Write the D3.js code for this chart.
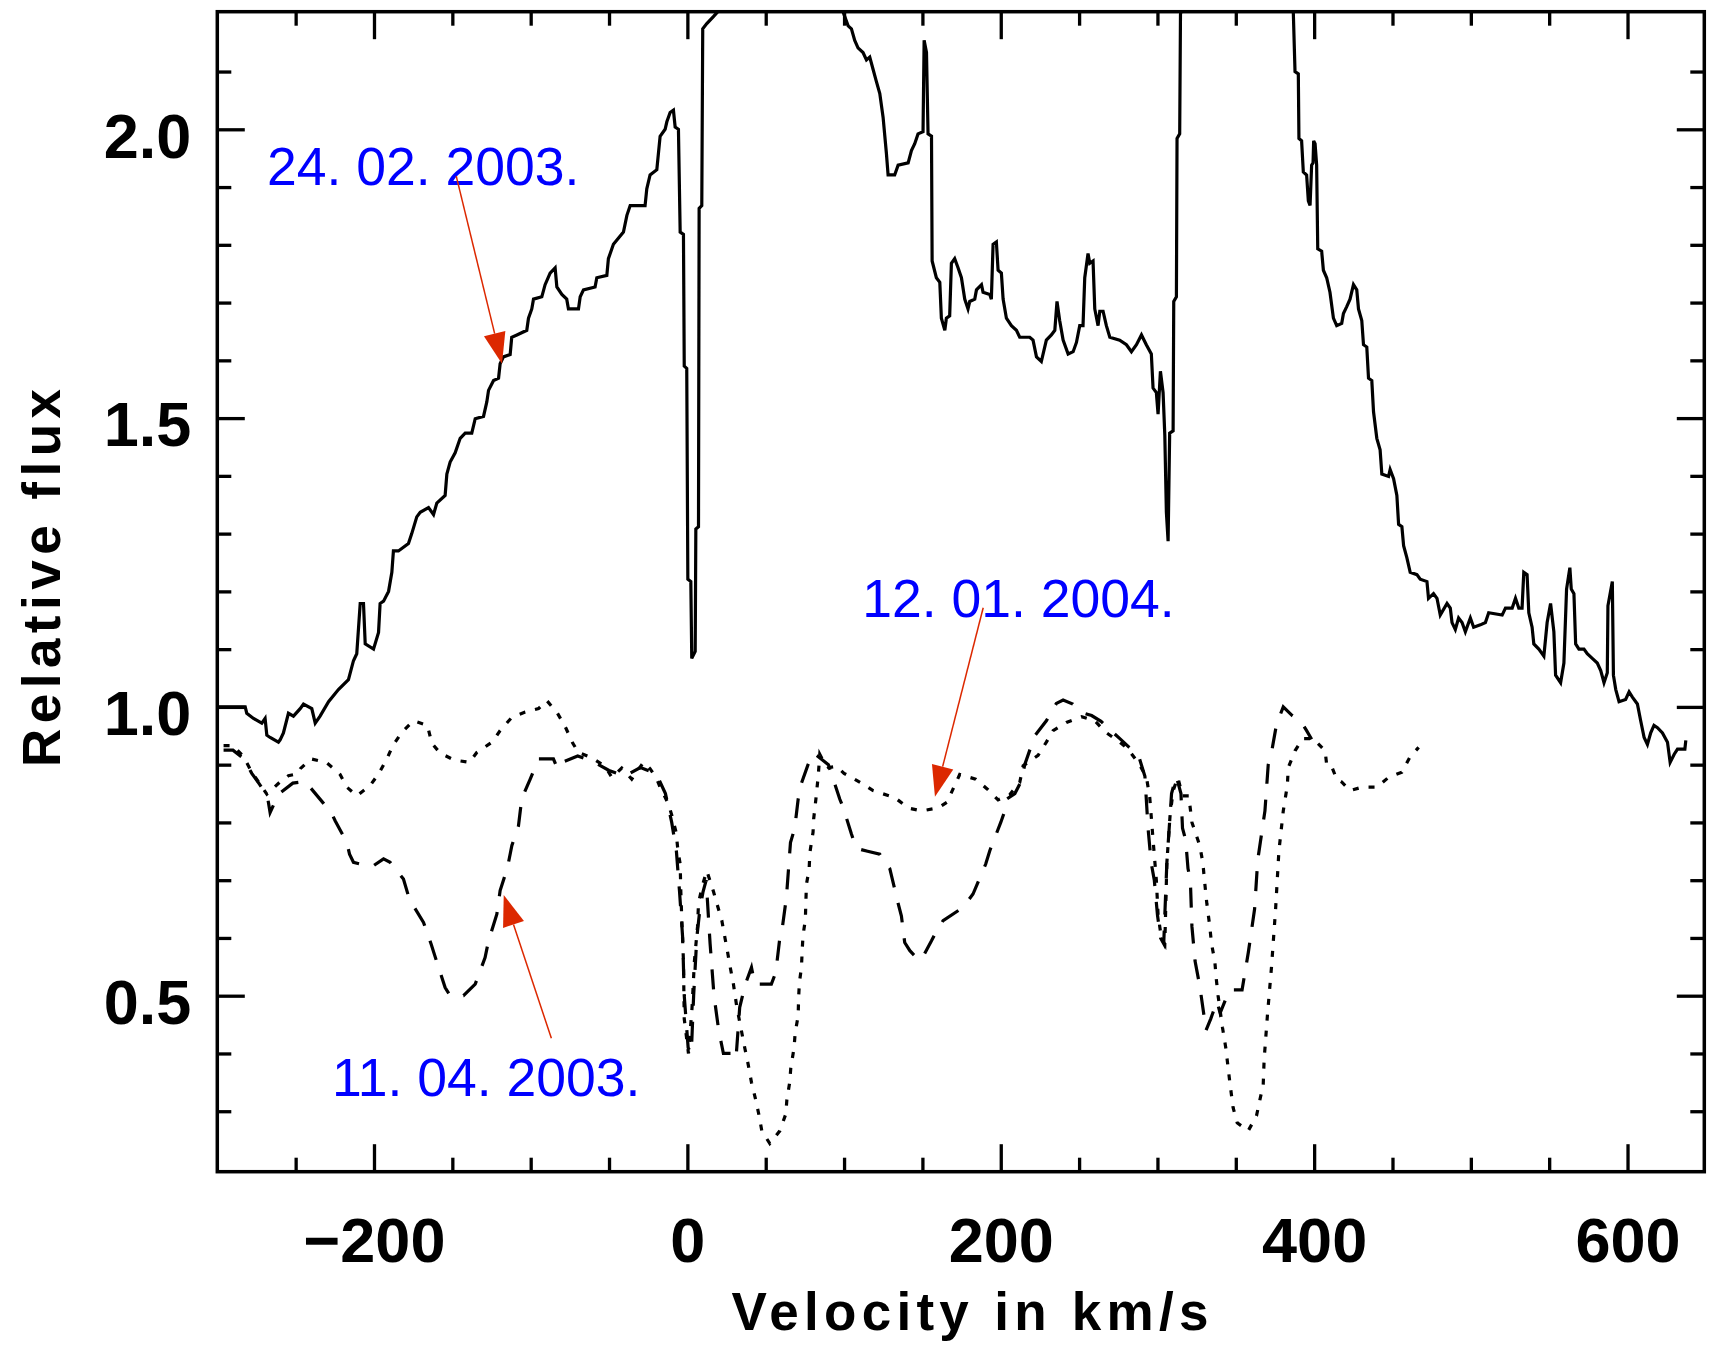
<!DOCTYPE html>
<html>
<head>
<meta charset="utf-8">
<script src="https://cdn.jsdelivr.net/npm/d3@7"></script>
<style>
  html, body { margin: 0; padding: 0; background: #ffffff; }
  svg { display: block; }
</style>
</head>
<body>
<svg id="chart" width="1717" height="1354"></svg>
<script>
// ---- Spectrum of 24.02.2003 (solid) ----
const vel24Feb2003 = [
  -299.2,-282.2,-281.2,-276.9,-271.6,-269.5,-268.4,-266.3,-261.0,-259.9,-257.8,-254.6,-251.4,-247.1,-245.0,-239.7,
  -237.5,-234.4,-229.0,-222.7,-216.3,-213.1,-211.0,-208.8,-206.7,-205.6,-200.3,-197.1,-196.1,-193.9,-190.7,-188.6,
  -187.6,-184.4,-178.0,-175.9,-172.7,-170.5,-165.2,-162.0,-159.9,-154.6,-153.5,-151.4,-148.2,-145.0,-141.8,-137.6,
  -135.4,-130.1,-128.0,-126.9,-123.7,-120.5,-119.5,-117.4,-113.1,-112.1,-108.8,-102.5,-101.4,-99.3,-98.2,-92.9,
  -90.8,-87.6,-84.4,-83.3,-80.1,-77.0,-75.9,-69.5,-68.4,-66.3,-58.9,-57.8,-51.4,-50.4,-47.2,-40.8,
  -38.6,-36.5,-27.0,-25.9,-23.8,-19.5,-17.4,-14.2,-13.1,-11.0,-8.9,-7.8,-5.7,-4.6,-2.5,-2.0,
  -0.4,0.3,2.2,2.8,5.0,5.4,7.1,7.5,9.2,9.8,12.4,16.6,20.9,30,90,99.4,
  102.6,104.7,106.8,108.9,112.1,114.3,116.4,118.5,120.6,122.8,124.9,127.0,128.1,132.3,134.5,140.9,
  143.0,145.1,147.2,150.4,151.1,152.6,153.6,155.8,156.2,158.9,161.1,162.1,164.3,165.3,167.4,168.5,
  170.6,172.8,174.9,177.0,179.1,180.2,183.4,184.5,187.7,188.7,193.0,194.0,195.1,197.2,198.3,200.4,
  201.5,203.6,206.8,210.0,212.1,218.5,220.6,222.8,225.9,229.1,232.3,234.5,235.9,237.6,239.8,243.0,
  246.2,248.3,250.4,252.5,253.6,255.7,256.8,258.9,260.0,262.1,263.2,265.3,267.4,269.6,275.9,280.2,
  283.4,286.6,289.8,292.9,296.1,297.2,299.3,300.4,301.9,303.6,304.7,305.7,306.8,307.8,310.0,310.4,
  312.1,312.5,314.2,314.7,325,380,386.7,387.8,389.9,390.3,392.0,393.1,395.2,396.3,397.4,398.4,
  399.3,399.7,400.6,401.6,402.3,404.8,405.9,408.0,410.1,412.3,414.4,417.6,418.7,420.8,422.9,425.1,
  427.2,428.3,430.4,431.5,433.6,434.7,436.8,437.9,440.0,442.1,443.2,447.5,448.5,450.7,452.8,453.9,
  456.0,457.1,459.2,461.3,465.6,467.7,472.0,473.0,476.2,478.4,480.5,484.8,486.9,488.0,490.1,492.2,
  494.4,496.5,499.7,501.8,506.1,509.3,511.4,520.0,522.1,526.4,528.5,530.6,532.7,533.8,535.9,537.0,
  539.1,540.2,543.4,546.6,548.7,550.9,553.0,554.1,557.3,559.4,561.1,563.2,564.1,565.8,566.9,569.0,
  572.2,574.3,577.5,580.7,582.9,585.0,587.1,587.5,590.3,591.0,592.5,594.6,598.8,601.0,603.1,606.3,
  608.4,610.6,612.7,614.8,616.9,619.1,622.3,625.5,627.2,629.8,631.9,636.6,637.2
];
const flux24Feb2003 = [
  1.000,1.000,0.989,0.980,0.972,0.980,0.951,0.947,0.939,0.943,0.955,0.989,0.984,0.997,1.005,0.997,
  0.972,0.984,1.009,1.030,1.047,1.080,1.092,1.179,1.179,1.109,1.100,1.129,1.179,1.183,1.200,1.233,
  1.270,1.270,1.283,1.300,1.329,1.337,1.345,1.333,1.353,1.366,1.403,1.424,1.440,1.465,1.474,1.474,
  1.499,1.503,1.528,1.548,1.565,1.569,1.594,1.606,1.610,1.640,1.644,1.652,1.673,1.689,1.706,1.710,
  1.731,1.751,1.760,1.727,1.714,1.706,1.689,1.689,1.710,1.722,1.727,1.743,1.747,1.776,1.801,1.822,
  1.851,1.868,1.868,1.897,1.921,1.930,1.988,2.000,2.013,2.029,2.033,2.004,2.000,1.822,1.818,1.590,
  1.586,1.221,1.217,1.084,1.096,1.308,1.312,1.863,1.868,2.174,2.183,2.195,2.208,2.350,2.350,2.203,
  2.179,2.174,2.154,2.141,2.133,2.120,2.125,2.104,2.083,2.062,2.021,1.959,1.921,1.921,1.938,1.942,
  1.963,1.975,1.992,1.996,2.154,2.133,1.992,1.988,1.772,1.743,1.735,1.673,1.652,1.673,1.677,1.768,
  1.776,1.760,1.743,1.706,1.689,1.702,1.706,1.722,1.731,1.718,1.714,1.706,1.801,1.805,1.756,1.751,
  1.706,1.673,1.660,1.652,1.640,1.640,1.635,1.606,1.598,1.635,1.644,1.652,1.702,1.669,1.635,1.611,
  1.615,1.631,1.660,1.660,1.743,1.785,1.768,1.772,1.689,1.660,1.685,1.685,1.660,1.640,1.635,1.627,
  1.615,1.627,1.644,1.627,1.611,1.552,1.544,1.507,1.581,1.544,1.470,1.337,1.287,1.474,1.478,1.702,
  1.710,1.984,1.992,2.199,2.350,2.350,2.203,2.100,2.096,1.984,1.980,1.926,1.921,1.876,1.868,1.938,
  1.942,1.980,1.975,1.938,1.793,1.789,1.756,1.743,1.718,1.673,1.660,1.664,1.681,1.693,1.706,1.731,
  1.722,1.689,1.669,1.627,1.623,1.569,1.565,1.511,1.465,1.445,1.403,1.399,1.411,1.395,1.366,1.316,
  1.312,1.279,1.258,1.233,1.229,1.221,1.217,1.188,1.196,1.188,1.159,1.179,1.171,1.146,1.134,1.154,
  1.146,1.130,1.154,1.138,1.142,1.146,1.163,1.159,1.171,1.171,1.188,1.171,1.171,1.233,1.229,1.163,
  1.138,1.109,1.100,1.088,1.146,1.179,1.130,1.055,1.042,1.076,1.204,1.241,1.204,1.196,1.109,1.100,
  1.100,1.092,1.084,1.076,1.063,1.042,1.059,1.175,1.217,1.055,1.030,1.009,1.013,1.026,1.017,1.005,
  0.976,0.947,0.935,0.955,0.968,0.964,0.955,0.939,0.904,0.918,0.927,0.927,0.942
];

// ---- Spectrum of 11.04.2003 (dashed) ----
const vel11Apr2003 = [
  -296,-290,-283,-278,-273,-268,-266.3,-260.9,-251.8,-243.9,-232.2,-226.9,-224.8,-217.3,-215.6,-213.1,
  -201.4,-193.9,-189.7,-181.2,-177.4,-168.4,-163.5,-158.8,-154.6,-151.4,-142.9,-135.4,-129.1,-126.9,-121.6,-119.5,
  -114.8,-112.0,-107.8,-105.7,-100.3,-95.0,-85.5,-82.9,-80.1,-70,-60,-50,-40,-30,-20,-14,
  -10,-7,-5,-3,-2,0.5,2.5,4,6,8,10,12,14.5,17,20,23,
  28,31,33.4,37,40.9,43,46.2,53.6,56.4,59,60.7,63.2,65.8,68.5,70.7,72.8,
  77,80.5,83,90,97.3,99.4,104.7,107.9,115,122.8,126,129.2,134.5,136.6,138.7,142,
  147.2,149.4,155.8,159,163.2,176,182.3,190.4,193,200,202.6,203.6,209,213.2,215.3,221.7,
  229.1,235.5,239.8,246,252,258,264,270,276,282,288,292,294,296,298,300,
  302,304,306,309,312,315,316,318,319.5,321,322,324,327,330,331,334,
  338,340,346,354,358,362,364,368.6,370.7,372.8,376,380.3,386,392,395.2,398.4
];
const flux11Apr2003 = [
  0.925,0.925,0.910,0.885,0.866,0.845,0.817,0.849,0.868,0.871,0.833,0.815,0.803,0.765,0.745,0.731,
  0.723,0.737,0.731,0.702,0.667,0.627,0.589,0.549,0.514,0.500,0.500,0.520,0.566,0.595,0.641,0.682,
  0.722,0.760,0.794,0.841,0.875,0.910,0.910,0.893,0.904,0.915,0.905,0.890,0.880,0.895,0.885,0.850,
  0.800,0.750,0.680,0.600,0.500,0.410,0.400,0.500,0.600,0.650,0.680,0.700,0.590,0.500,0.440,0.400,
  0.400,0.390,0.480,0.520,0.549,0.520,0.520,0.520,0.540,0.600,0.620,0.670,0.765,0.790,0.840,0.868,
  0.900,0.920,0.915,0.900,0.840,0.826,0.780,0.755,0.750,0.745,0.730,0.720,0.660,0.638,0.592,0.578,
  0.563,0.563,0.595,0.612,0.630,0.653,0.676,0.728,0.751,0.800,0.820,0.840,0.850,0.872,0.900,0.950,
  0.976,1.006,1.012,1.005,0.990,0.985,0.975,0.960,0.945,0.930,0.915,0.880,0.790,0.730,0.700,0.640,
  0.600,0.590,0.730,0.850,0.880,0.850,0.790,0.770,0.720,0.700,0.620,0.560,0.517,0.460,0.440,0.460,
  0.490,0.470,0.510,0.510,0.575,0.650,0.735,0.820,0.900,0.921,0.970,1.000,0.985,0.973,0.959,0.944
];

// ---- Spectrum of 12.01.2004 (dotted) ----
const vel12Jan2004 = [
  -296,-290,-283.3,-278,-273.1,-268.4,-260,-254.6,-249,-247,-240.3,-230.5,-224.8,-221.6,-217.3,-211,
  -202.4,-197.1,-191.8,-188,-182.2,-174.8,-165.9,-163.1,-157.8,-148.8,-139.1,-134.4,-124.2,-119.5,-112,-103.5,
  -95,-89.7,-82.9,-78,-73.1,-69.5,-61,-52.5,-48.2,-41.9,-35.5,-28,-23.8,-19.5,-17.4,-12.1,
  -9.9,-7.2,-6,-4.6,-4.2,-3.6,-2.5,-2,0.7,3,4.5,6.5,7.1,9.5,12.4,16.7,
  18.8,22,24,25.5,27.3,29.4,31.3,33,36.6,38.8,40.9,43.6,45.8,47.5,52.6,59,
  62.8,63.5,65.3,66,68.1,68.8,70.7,71,71.5,72.8,73.3,73.8,75.3,75.6,76,77.7,
  78.2,80.2,80.6,82,83.5,84.5,87,90,95.1,100,111.1,118.5,132.4,140.9,149.4,160,
  165.7,173.8,184,191.3,198.3,205.7,212.1,214.3,223.8,229.1,233.4,241.9,251.5,260,267,275.5,
  281.2,288.3,293,295.1,297.2,299.3,300.4,302.5,304.7,306,308,310,313,316,320,322,
  327,329,330,331.5,333.4,334.5,336.6,337.5,338.7,341.5,343.6,346.2,348.3,350.9,357.9,363.2,
  365.4,367.5,368.1,370.3,372.8,375.4,377.5,380.3,382.9,383.5,387.8,392.7,399.5,407,408,411,
  414.4,417.6,423,430.4,440,447.5,456,460.9,466.7
];
const flux12Jan2004 = [
  0.933,0.933,0.914,0.887,0.868,0.849,0.870,0.881,0.884,0.893,0.910,0.904,0.891,0.883,0.861,0.846,
  0.864,0.884,0.910,0.933,0.956,0.976,0.968,0.937,0.920,0.908,0.904,0.921,0.940,0.959,0.982,0.991,
  0.997,1.011,0.989,0.966,0.937,0.921,0.912,0.897,0.878,0.894,0.875,0.904,0.893,0.875,0.861,0.832,
  0.812,0.783,0.751,0.728,0.682,0.635,0.560,0.460,0.400,0.480,0.560,0.620,0.660,0.690,0.716,0.680,
  0.660,0.630,0.600,0.578,0.550,0.520,0.485,0.460,0.410,0.381,0.350,0.320,0.292,0.266,0.244,0.266,
  0.295,0.320,0.350,0.375,0.410,0.436,0.465,0.497,0.523,0.549,0.580,0.604,0.632,0.661,0.693,0.719,
  0.748,0.783,0.806,0.840,0.880,0.918,0.905,0.895,0.897,0.885,0.868,0.855,0.843,0.825,0.820,0.825,
  0.835,0.883,0.875,0.858,0.839,0.848,0.869,0.898,0.916,0.939,0.959,0.973,0.983,0.976,0.956,0.940,
  0.927,0.901,0.878,0.843,0.770,0.700,0.640,0.600,0.589,0.730,0.810,0.855,0.878,0.846,0.846,0.800,
  0.760,0.730,0.700,0.660,0.620,0.590,0.560,0.530,0.500,0.445,0.410,0.350,0.306,0.280,0.266,0.292,
  0.320,0.346,0.390,0.470,0.550,0.650,0.750,0.820,0.864,0.895,0.924,0.945,0.945,0.924,0.900,0.898,
  0.875,0.870,0.855,0.861,0.861,0.878,0.887,0.912,0.930
];

// ---- Axes: ticks and their labels ----
const xMajorTicks = [-200, 0, 200, 400, 600];
const xMinorTicks = [-250, -150, -100, -50, 50, 100, 150, 250, 300, 350, 450, 500, 550];
const yMajorTicks = [0.5, 1.0, 1.5, 2.0];
const yMinorTicks = [0.3, 0.4, 0.6, 0.7, 0.8, 0.9, 1.1, 1.2, 1.3, 1.4, 1.6, 1.7, 1.8, 1.9, 2.1];
const xTitle = "Velocity in km/s";
const yTitle = "Relative flux";

// ---- Date labels with arrows (text anchor, arrow tail, arrow tip in data units) ----
const noteLabels = ["24. 02. 2003.", "11. 04. 2003.", "12. 01. 2004."];
const noteTextAt = [[-268.3, 1.9034], [-226.8, 0.3255], [111.6, 1.1557]];
const noteTailAt = [[-147.5, 1.919], [-86.8, 0.4262], [188.8, 1.1717]];
const noteTipAt  = [[-118.3, 1.594], [-117.2, 0.6743], [158.0, 0.8445]];

// ---- Layout ----
const frame = { left: 217.3, right: 1704.3, top: 11.7, bottom: 1171.7 };
const svg = d3.select("#chart");

const x = d3.scaleLinear().domain([-300, 649]).range([frame.left, frame.right]);
const y = d3.scaleLinear().domain([0.1953, 2.2036]).range([frame.bottom, frame.top]);

const FONT = "'Liberation Sans', Arial, Helvetica, sans-serif";
const tickWidth = 3.3;

svg.append("defs").append("clipPath").attr("id", "plot-clip")
  .append("rect")
  .attr("x", frame.left).attr("y", frame.top)
  .attr("width", frame.right - frame.left).attr("height", frame.bottom - frame.top);

// inward ticks on all four sides
function styleAxis(g) {
  g.select(".domain").remove();
  g.selectAll(".tick line").attr("stroke", "#000").attr("stroke-width", tickWidth);
  g.selectAll("text")
    .attr("fill", "#000")
    .style("font-family", FONT)
    .style("font-weight", "bold")
    .style("font-size", "63px");
}

const minus = d => (d < 0 ? "\u2212" + Math.abs(d) : String(d));

svg.append("g").attr("transform", `translate(0,${frame.bottom})`)
  .call(d3.axisBottom(x).tickValues(xMajorTicks).tickSize(-27.5).tickPadding(45.6).tickFormat(minus))
  .call(styleAxis);
svg.append("g").attr("transform", `translate(0,${frame.bottom})`)
  .call(d3.axisBottom(x).tickValues(xMinorTicks).tickSize(-14).tickFormat(""))
  .call(styleAxis);
svg.append("g").attr("transform", `translate(0,${frame.top})`)
  .call(d3.axisTop(x).tickValues(xMajorTicks).tickSize(-27.5).tickFormat(""))
  .call(styleAxis);
svg.append("g").attr("transform", `translate(0,${frame.top})`)
  .call(d3.axisTop(x).tickValues(xMinorTicks).tickSize(-14).tickFormat(""))
  .call(styleAxis);

const yLeft = svg.append("g").attr("transform", `translate(${frame.left},0)`)
  .call(d3.axisLeft(y).tickValues(yMajorTicks).tickSize(-27.5).tickPadding(26).tickFormat(d3.format(".1f")))
  .call(styleAxis);
yLeft.selectAll("text").attr("dy", "0.44em");
svg.append("g").attr("transform", `translate(${frame.left},0)`)
  .call(d3.axisLeft(y).tickValues(yMinorTicks).tickSize(-14).tickFormat(""))
  .call(styleAxis);
svg.append("g").attr("transform", `translate(${frame.right},0)`)
  .call(d3.axisRight(y).tickValues(yMajorTicks).tickSize(-27.5).tickFormat(""))
  .call(styleAxis);
svg.append("g").attr("transform", `translate(${frame.right},0)`)
  .call(d3.axisRight(y).tickValues(yMinorTicks).tickSize(-14).tickFormat(""))
  .call(styleAxis);

// ---- Spectra ----
const plot = svg.append("g").attr("clip-path", "url(#plot-clip)");

function drawSpectrum(vel, flux, dash) {
  const pts = vel.map((v, i) => [v, flux[i]]);
  plot.append("path")
    .datum(pts)
    .attr("fill", "none")
    .attr("stroke", "#000")
    .attr("stroke-width", 3.2)
    .attr("stroke-linejoin", "miter")
    .attr("stroke-dasharray", dash)
    .attr("d", d3.line().x(d => x(d[0])).y(d => y(d[1])));
}

drawSpectrum(vel24Feb2003, flux24Feb2003, null);
drawSpectrum(vel11Apr2003, flux11Apr2003, "20,16");
drawSpectrum(vel12Jan2004, flux12Jan2004, "6,10");

// ---- Frame ----
svg.append("rect")
  .attr("x", frame.left).attr("y", frame.top)
  .attr("width", frame.right - frame.left).attr("height", frame.bottom - frame.top)
  .attr("fill", "none").attr("stroke", "#000").attr("stroke-width", 3.5);

// ---- Axis titles ----
svg.append("text")
  .attr("x", 970).attr("y", 1330)
  .attr("text-anchor", "middle")
  .attr("textLength", 477).attr("lengthAdjust", "spacing")
  .style("font-family", FONT).style("font-weight", "bold").style("font-size", "53px")
  .text(xTitle);

svg.append("text")
  .attr("transform", "translate(60,578) rotate(-90)")
  .attr("text-anchor", "middle")
  .attr("textLength", 378).attr("lengthAdjust", "spacing")
  .style("font-family", FONT).style("font-weight", "bold").style("font-size", "53px")
  .text(yTitle);

// ---- Date annotations ----
const red = "#dc2800";
noteLabels.forEach((label, i) => {
  const [tx, ty] = noteTextAt[i];
  svg.append("text")
    .attr("x", x(tx)).attr("y", y(ty))
    .attr("fill", "#0000ff")
    .style("font-family", FONT).style("font-size", "53.5px")
    .text(label);

  const x0 = x(noteTailAt[i][0]), y0 = y(noteTailAt[i][1]);
  const x1 = x(noteTipAt[i][0]),  y1 = y(noteTipAt[i][1]);
  const len = Math.hypot(x1 - x0, y1 - y0);
  const ux = (x1 - x0) / len, uy = (y1 - y0) / len;
  const headLen = 31, headHalf = 11;
  const bx = x1 - ux * headLen, by = y1 - uy * headLen;

  svg.append("line")
    .attr("x1", x0).attr("y1", y0).attr("x2", bx).attr("y2", by)
    .attr("stroke", red).attr("stroke-width", 1.5);
  svg.append("polygon")
    .attr("points", [
      [x1, y1],
      [bx - uy * headHalf, by + ux * headHalf],
      [bx + uy * headHalf, by - ux * headHalf]
    ].map(p => p.join(",")).join(" "))
    .attr("fill", red);
});
</script>
</body>
</html>
